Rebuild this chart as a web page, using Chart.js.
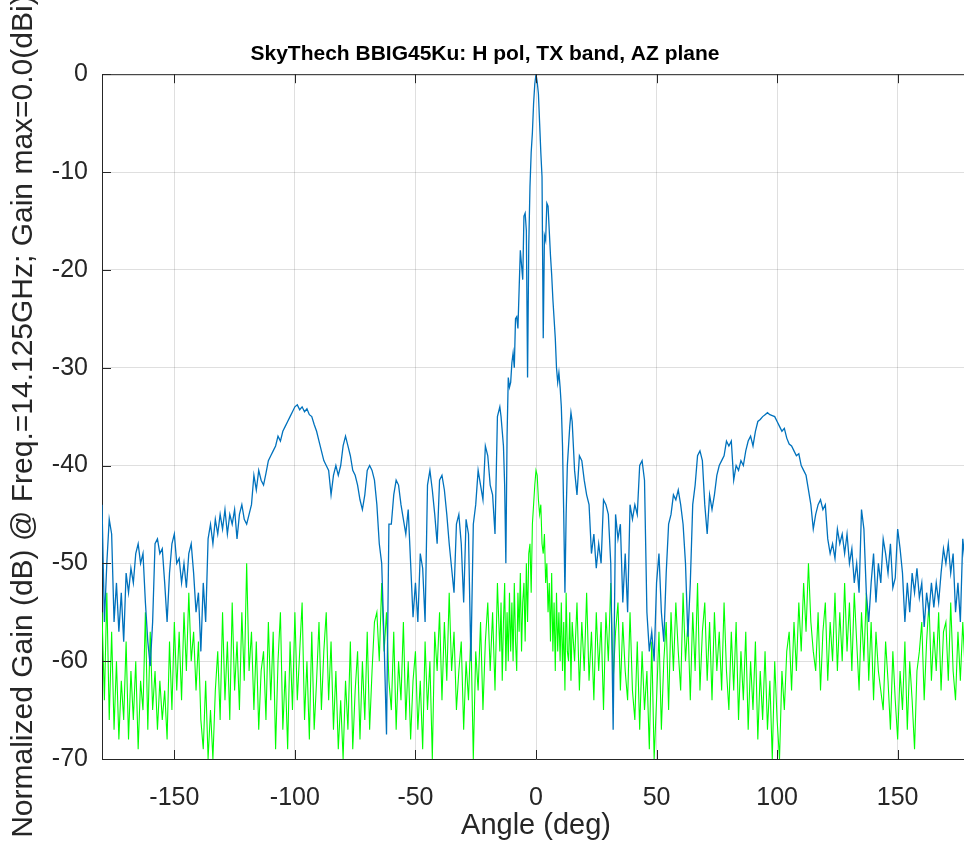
<!DOCTYPE html>
<html>
<head>
<meta charset="utf-8">
<script src="https://cdn.jsdelivr.net/npm/chart.js@4.4.1/dist/chart.umd.min.js"></script>
<style>
  html, body { margin: 0; padding: 0; background: #fff; overflow: hidden; }
  #wrap { width: 972px; height: 848px; }
</style>
</head>
<body>
<div id="wrap"><canvas id="chart" width="972" height="848"></canvas></div>
<script>
// azimuth angles (deg): 1 deg steps outside, 0.5 deg steps across the main lobe
const angles = [
  -180,-179,-178,-177,-176,-175,-174,-173,-172,-171,
  -170,-169,-168,-167,-166,-165,-164,-163,-162,-161,
  -160,-159,-158,-157,-156,-155,-154,-153,-152,-151,
  -150,-149,-148,-147,-146,-145,-144,-143,-142,-141,
  -140,-139,-138,-137,-136,-135,-134,-133,-132,-131,
  -130,-129,-128,-127,-126,-125,-124,-123,-122,-121,
  -120,-119,-118,-117,-116,-115,-114,-113,-112,-111,
  -110,-109,-108,-107,-106,-105,-104,-103,-102,-101,
  -100,-99,-98,-97,-96,-95,-94,-93,-92,-91,
  -90,-89,-88,-87,-86,-85,-84,-83,-82,-81,
  -80,-79,-78,-77,-76,-75,-74,-73,-72,-71,
  -70,-69,-68,-67,-66,-65,-64,-63,-62,-61,
  -60,-59,-58,-57,-56,-55,-54,-53,-52,-51,
  -50,-49,-48,-47,-46,-45,-44,-43,-42,-41,
  -40,-39,-38,-37,-36,-35,-34,-33,-32,-31,
  -30,-29,-28,-27,-26,-25,-24,-23,-22,-21,
  -20,-19,-18,-17,-16,
  -15,-14.5,-14,-13.5,-13,-12.5,-12,-11.5,-11,-10.5,
  -10,-9.5,-9,-8.5,-8,-7.5,-7,-6.5,-6,-5.5,
  -5,-4.5,-4,-3.5,-3,-2.5,-2,-1.5,-1,-0.5,
  0,
  0.5,1,1.5,2,2.5,3,3.5,4,4.5,5,
  5.5,6,6.5,7,7.5,8,8.5,9,9.5,10,
  10.5,11,11.5,12,12.5,13,13.5,14,14.5,15,
  16,17,18,19,20,21,22,23,24,25,
  26,27,28,29,30,31,32,33,34,35,
  36,37,38,39,40,41,42,43,44,45,
  46,47,48,49,50,51,52,53,54,55,
  56,57,58,59,60,61,62,63,64,65,
  66,67,68,69,70,71,72,73,74,75,
  76,77,78,79,80,81,82,83,84,85,
  86,87,88,89,90,91,92,93,94,95,
  96,97,98,99,100,101,102,103,104,105,
  106,107,108,109,110,111,112,113,114,115,
  116,117,118,119,120,121,122,123,124,125,
  126,127,128,129,130,131,132,133,134,135,
  136,137,138,139,140,141,142,143,144,145,
  146,147,148,149,150,151,152,153,154,155,
  156,157,158,159,160,161,162,163,164,165,
  166,167,168,169,170,171,172,173,174,175,
  176,177,178,179,180
];

// H pol (co-polar) normalized gain, dB
const copolar = [
  -44,-56,-50,-45.5,-47,-56,-52,-57,-53,-58,
  -51,-53,-50.5,-52,-49,-48,-50,-49,-54,-58,
  -60.5,-56,-48,-47.5,-49,-48.5,-52,-56,-51,-48,
  -47,-50,-49.5,-52,-50,-52.5,-49,-48,-51,-55,
  -53,-59,-52,-56,-47.5,-46,-48,-45.5,-47,-45,
  -46.5,-44.5,-47,-45,-46,-44.5,-47.5,-45,-44,-45.5,
  -46,-45,-44,-41,-42.5,-40.5,-41.5,-42,-40.8,-39.5,
  -39,-38.5,-38,-37,-37.5,-36.5,-36,-35.5,-35,-34.5,
  -34,-33.8,-34.3,-34,-34.5,-34.2,-34.8,-35,-35.8,-36.5,
  -37.5,-38.5,-39.5,-40,-40.5,-43,-41,-40,-41,-40,
  -38,-37,-38,-39,-40.5,-41,-42,-43.5,-44.5,-43,
  -40.5,-40,-40.5,-41.5,-44,-48,-50,-58,-67.5,-46,
  -46,-43,-41.5,-42,-44,-45.5,-47,-44.5,-50,-55.5,
  -52,-56,-49,-50.5,-56,-42,-40.5,-42.5,-45,-48,
  -41.5,-41,-42.5,-45,-48,-50.5,-53,-46,-45,-48,
  -54,-45.5,-47,-60,-46,-44,-40.5,-42,-43.5,-38,
  -39,-42,-43,-47,-35,
  -34,-35,-36.5,-38,-42,-50,-37,-31,-32,-31.5,
  -29.5,-28.5,-30,-25,-24.8,-26,-22,-18,-19.5,-21,
  -14.5,-14.2,-16,-31,-17.5,-11.5,-8,-6,-3,-1,
  0,
  -0.8,-2,-5,-8,-10.5,-27,-16.5,-17,-13.2,-13.5,
  -16,-18.5,-20.5,-23,-25,-27,-30,-31.5,-30.5,-32,
  -34,-38,-45,-53,-45,-40,-38,-36,-34.6,-35.5,
  -40.5,-43,-39,-39.5,-41.5,-43,-44,-49,-47,-50.5,
  -48,-50,-43.5,-44,-45,-50,-67,-45,-47.5,-46,
  -54,-49,-55,-44,-45.5,-44,-45,-40,-39.5,-41.5,
  -55,-59,-57,-60,-52,-49,-55,-58,-51,-46,
  -45,-43,-43.5,-42.5,-44,-46,-50,-57.5,-52,-44,
  -42,-39,-38.5,-39.5,-44,-47,-43,-44.5,-43,-41,
  -40,-39.5,-39,-37.5,-38,-37.5,-41.5,-40,-40.5,-39.5,
  -40,-38.5,-37.5,-37,-38,-36.5,-35.5,-35.3,-35,-34.8,
  -34.6,-34.8,-34.9,-35,-35.5,-36,-36.5,-36.2,-37.2,-37.8,
  -38,-38.5,-39,-38.8,-40,-40.5,-41,-42.5,-44,-46.5,
  -45,-44,-43.5,-44.5,-44,-47.5,-49,-48,-49.5,-46.5,
  -48,-47,-49,-47,-50,-48.5,-52,-50,-53,-44.5,
  -46.5,-53,-56,-52,-49,-54,-50,-52,-47.5,-49,
  -51,-48,-52.5,-51.5,-46.5,-48.5,-51,-56,-52,-55,
  -51,-53,-50.5,-53.5,-52,-56.5,-53,-55,-52,-54.5,
  -52,-54,-51,-48.5,-50,-48,-51,-49,-55,-52,
  -56,-47.5,-50,-48,-47
];

// cross-polar normalized gain, dB
const crosspolar = [
  -55,-64,-53,-66,-57,-67,-60,-68,-62,-66,
  -58,-68,-61,-66,-60,-69,-62,-65,-55,-67,
  -57,-65,-61,-67,-62,-66,-63,-68,-58,-65,
  -56,-63,-57,-64,-55,-61,-53,-60,-57,-63,
  -58,-66,-69,-62,-70,-65,-70,-63,-59,-66,
  -55,-64,-58,-66,-54,-63,-58,-65,-55,-62,
  -50,-61,-57,-65,-58,-67,-61,-59,-66,-56,
  -64,-57,-69,-60,-55,-67,-61,-69,-58,-65,
  -55,-64,-59,-54,-66,-60,-68,-57,-67,-62,
  -56,-65,-59,-55,-64,-58,-67,-61,-69,-64,
  -70,-62,-67,-58,-69,-63,-59,-68,-60,-66,
  -57,-67,-61,-56,-55,-60,-52,-59,-55,-62,
  -65,-57,-67,-60,-64,-56,-66,-60,-68,-62,
  -59,-67,-62,-69,-58,-65,-60,-70,-57,-61,
  -55,-64,-56,-62,-53,-61,-57,-65,-61,-58,
  -67,-60,-64,-57,-70,-59,-63,-56,-65,-58,
  -54,-61,-55,-63,-52,
  -59,-54,-62,-56,-52,-61,-55,-60,-53,-59,
  -54,-60,-52,-58,-61,-53,-57,-51,-59,-54,
  -52,-58,-50,-56,-49,-48,-53,-46,-44,-42,
  -40.5,
  -41,-43.5,-45,-44,-48,-49,-47,-52,-50,-55,
  -52,-58,-51,-59,-54,-61,-53,-59,-55,-60,
  -54,-61,-56,-63,-53,-59,-60,-55,-62,-56,
  -60,-54,-63,-56,-61,-53,-62,-57,-64,-55,
  -61,-56,-65,-55,-60,-52,-62,-57,-54,-63,
  -56,-61,-64,-55,-63,-66,-58,-67,-59,-65,
  -61,-69,-58,-70,-64,-57,-67,-60,-56,-65,
  -55,-61,-54,-59,-63,-53,-60,-56,-64,-55,
  -61,-52,-63,-57,-54,-62,-56,-64,-55,-61,
  -57,-63,-54,-61,-65,-57,-63,-56,-66,-59,
  -64,-57,-67,-60,-65,-58,-68,-61,-66,-59,
  -67,-62,-70,-60,-66,-70,-61,-65,-59,-57,
  -63,-56,-61,-54,-59,-52,-57,-50,-56,-59,
  -61,-55,-63,-57,-54,-62,-56,-60,-53,-61,
  -55,-60,-52,-59,-54,-61,-53,-58,-63,-55,
  -60,-53,-62,-56,-64,-57,-61,-63,-65,-58,
  -62,-67,-59,-64,-68,-61,-65,-58,-67,-60,
  -64,-69,-61,-59,-56,-64,-58,-54,-62,-57,
  -61,-55,-63,-57,-56,-62,-54,-61,-64,-57,
  -62,-56,-61,-54,-60
];

const xTickValues = [-150, -100, -50, 0, 50, 100, 150];
const yMin = -70, yMax = 0, yStep = 10;

const AXIS = '#262626';
const FONT = "'Liberation Sans', Arial, Helvetica, sans-serif";

// MATLAB style box: top edge plus tick marks pointing into the plot
const innerTicks = {
  id: 'innerTicks',
  afterDraw(chart) {
    const { ctx, chartArea: a, scales: { x, y } } = chart;
    const len = 9;
    ctx.save();
    ctx.strokeStyle = AXIS;
    ctx.lineWidth = 1;
    ctx.beginPath();
    ctx.moveTo(a.left, a.top + 0.5);
    ctx.lineTo(a.right, a.top + 0.5);
    x.ticks.forEach(t => {
      const px = Math.round(x.getPixelForValue(t.value)) + 0.5;
      ctx.moveTo(px, a.bottom);
      ctx.lineTo(px, a.bottom - len);
      ctx.moveTo(px, a.top);
      ctx.lineTo(px, a.top + len);
    });
    y.ticks.forEach(t => {
      const py = Math.round(y.getPixelForValue(t.value)) + 0.5;
      ctx.moveTo(a.left, py);
      ctx.lineTo(a.left + len, py);
    });
    ctx.stroke();
    ctx.restore();
  }
};

const toPoints = vals => angles.map((a, i) => ({ x: a, y: vals[i] }));

new Chart(document.getElementById('chart'), {
  type: 'line',
  data: {
    datasets: [
      {
        label: 'H pol',
        data: toPoints(copolar),
        borderColor: '#0072BD',
        borderWidth: 1.3,
        pointRadius: 0,
        tension: 0
      },
      {
        label: 'X pol',
        data: toPoints(crosspolar),
        borderColor: '#00FF00',
        borderWidth: 1.1,
        pointRadius: 0,
        tension: 0
      }
    ]
  },
  options: {
    responsive: false,
    animation: false,
    layout: { padding: { left: 0, right: 2, top: 0, bottom: 0 } },
    plugins: {
      legend: { display: false },
      tooltip: { enabled: false },
      title: {
        display: true,
        text: 'SkyThech BBIG45Ku: H pol, TX band, AZ plane',
        color: '#000',
        font: { family: FONT, size: 21, weight: 'bold' },
        padding: { top: 42, bottom: 7 }
      }
    },
    scales: {
      x: {
        type: 'linear',
        min: -180,
        max: 180,
        afterBuildTicks: s => { s.ticks = xTickValues.map(v => ({ value: v })); },
        afterFit: s => { s.height = 89; },
        grid: { color: 'rgba(38,38,38,0.15)', drawTicks: false },
        border: { color: AXIS, width: 1 },
        ticks: { color: AXIS, font: { family: FONT, size: 25 }, padding: 24, maxRotation: 0 },
        title: {
          display: true,
          text: 'Angle (deg)',
          color: AXIS,
          font: { family: FONT, size: 29 },
          padding: { top: 0, bottom: 5 }
        }
      },
      y: {
        min: yMin,
        max: yMax,
        afterFit: s => { s.width = 102; },
        grid: { color: 'rgba(38,38,38,0.15)', drawTicks: false },
        border: { color: AXIS, width: 1 },
        ticks: { stepSize: yStep, color: AXIS, font: { family: FONT, size: 25 }, padding: 14 },
        title: {
          display: true,
          text: 'Normalized Gain (dB) @ Freq.=14.125GHz; Gain max=0.0(dBi)',
          color: AXIS,
          font: { family: FONT, size: 30 },
          padding: { top: 6, bottom: 0 }
        }
      }
    }
  },
  plugins: [innerTicks]
});
</script>
</body>
</html>
